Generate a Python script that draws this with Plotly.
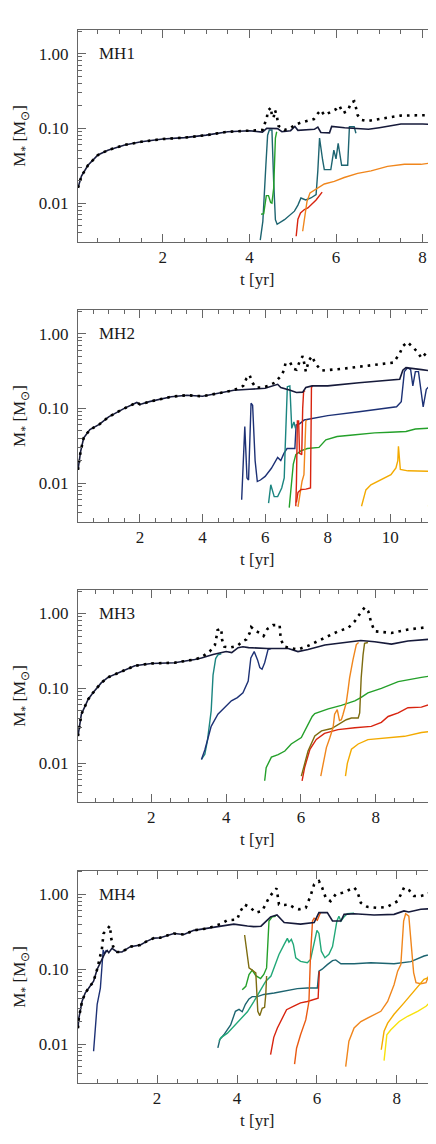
import plotly.graph_objects as go

# ---------------- MH1 ----------------
mh1_main_t = [0.04, 0.12, 0.27, 0.5, 0.73, 1.12, 1.5, 2.0, 2.5, 3.0, 3.5, 4.0, 4.3, 4.4, 4.65, 4.75, 4.95, 5.05,
              5.12, 5.5, 5.58, 5.65, 5.85, 5.9, 6.2, 6.4, 6.6, 6.75, 7.0, 7.5, 8.0, 8.31]
mh1_main_m = [0.016, 0.023, 0.032, 0.044, 0.051, 0.06, 0.066, 0.072, 0.075, 0.081, 0.09, 0.093, 0.089, 0.1, 0.099,
              0.09, 0.093, 0.106, 0.094, 0.097, 0.104, 0.088, 0.087, 0.106, 0.102, 0.1, 0.1, 0.097, 0.102, 0.114,
              0.114, 0.113]
mh1_tot_t = [0.04, 0.12, 0.27, 0.5, 0.73, 1.12, 1.5, 2.0, 2.5, 3.0, 3.5, 4.0, 4.3, 4.33, 4.4, 4.42, 4.5, 4.52, 4.56,
             4.59, 4.63, 4.67, 4.81, 4.93, 5.08, 5.2, 5.49, 5.58, 5.65, 5.73, 5.85, 5.92, 6.0, 6.08, 6.16, 6.27,
             6.35, 6.42, 6.46, 6.5, 6.58, 6.73, 7.19, 7.5, 8.12, 8.31]
mh1_tot_m = [0.016, 0.023, 0.032, 0.044, 0.051, 0.06, 0.066, 0.072, 0.075, 0.081, 0.09, 0.093, 0.095, 0.11, 0.13,
             0.17, 0.19, 0.14, 0.14, 0.175, 0.15, 0.108, 0.095, 0.1, 0.113, 0.12, 0.133, 0.158, 0.175, 0.15, 0.16,
             0.17, 0.18, 0.2, 0.16, 0.17, 0.222, 0.23, 0.19, 0.15, 0.13, 0.125, 0.139, 0.148, 0.15, 0.15]
mh1_teal_t = [4.25, 4.31, 4.38, 4.42, 4.46, 4.52, 4.56, 4.6, 4.64, 4.81, 5.04, 5.12, 5.19, 5.3, 5.42, 5.54, 5.58,
              5.62, 5.69, 5.73, 5.88, 5.95, 6.0, 6.05, 6.13, 6.27, 6.31, 6.42, 6.46]
mh1_teal_m = [0.0032, 0.0057, 0.032, 0.081, 0.095, 0.095, 0.0194, 0.006, 0.0052, 0.006, 0.0078, 0.0094, 0.0117,
              0.011, 0.0117, 0.013, 0.027, 0.074, 0.038, 0.028, 0.028, 0.051, 0.039, 0.063, 0.032, 0.032, 0.105,
              0.105, 0.086]
mh1_green_t = [4.27, 4.33, 4.39, 4.44, 4.49, 4.52, 4.56, 4.6, 4.63]
mh1_green_m = [0.0071, 0.0072, 0.0126, 0.0126, 0.0102, 0.01, 0.0158, 0.074, 0.09]
mh1_red_t = [5.08, 5.12, 5.18, 5.27, 5.35, 5.42, 5.54, 5.68]
mh1_red_m = [0.0036, 0.0061, 0.0074, 0.0082, 0.0086, 0.0095, 0.011, 0.014]
mh1_orange_t = [5.23, 5.29, 5.33, 5.4, 5.54, 5.73, 5.96, 6.19, 6.5, 6.81, 7.19, 7.58, 7.96, 8.31]
mh1_orange_m = [0.0042, 0.0068, 0.0105, 0.0137, 0.0153, 0.018, 0.0195, 0.022, 0.025, 0.027, 0.031, 0.033, 0.033,
                0.035]

# ---------------- MH2 ----------------
mh2_main_t = [0.02, 0.1, 0.2, 0.4, 0.7, 1.0, 1.5, 1.9, 2.0, 2.3, 3.0, 3.5, 4.0, 4.5, 5.0, 5.5, 6.0, 6.4, 6.5, 6.8,
              7.0, 7.2, 7.3, 7.5, 8.0, 9.0, 10.0, 10.3, 10.4, 10.5, 11.0, 11.46]
mh2_main_m = [0.015, 0.026, 0.04, 0.052, 0.061, 0.077, 0.1, 0.12, 0.113, 0.123, 0.143, 0.15, 0.145, 0.16, 0.175,
              0.18, 0.186, 0.21, 0.19, 0.175, 0.163, 0.165, 0.19, 0.2, 0.2, 0.22, 0.24, 0.245, 0.325, 0.35, 0.33,
              0.31]
mh2_tot_t = [0.02, 0.1, 0.2, 0.4, 0.7, 1.0, 1.5, 1.9, 2.0, 2.3, 3.0, 3.5, 4.0, 4.5, 5.0, 5.3, 5.4, 5.5, 5.6, 5.7,
             5.9, 6.1, 6.3, 6.5, 6.6, 6.65, 6.8, 6.9, 7.0, 7.1, 7.2, 7.25, 7.3, 7.4, 7.5, 7.6, 7.8, 8.5, 9.5, 10.1,
             10.3, 10.4, 10.55, 10.7, 10.85, 11.0, 11.2, 11.35, 11.46]
mh2_tot_m = [0.015, 0.026, 0.04, 0.052, 0.061, 0.077, 0.1, 0.12, 0.113, 0.123, 0.143, 0.15, 0.145, 0.16, 0.175,
             0.2, 0.25, 0.28, 0.22, 0.19, 0.19, 0.2, 0.22, 0.27, 0.32, 0.4, 0.41, 0.34, 0.33, 0.42, 0.5, 0.4, 0.31,
             0.44, 0.5, 0.4, 0.32, 0.34, 0.38, 0.41, 0.54, 0.68, 0.77, 0.66, 0.58, 0.47, 0.57, 0.68, 0.7]
mh2_navy_t = [5.25, 5.35, 5.42, 5.47, 5.55, 5.6, 5.68, 5.75, 5.85, 6.0, 6.2, 6.4, 6.5, 6.6, 6.7, 6.95, 6.99, 7.1,
              7.25, 7.46, 8.0, 9.0, 10.2, 10.35, 10.45, 10.55, 10.65, 10.72, 10.8, 10.9, 11.0, 11.05, 11.15, 11.25,
              11.35, 11.46]
mh2_navy_m = [0.006, 0.057, 0.0117, 0.011, 0.117, 0.11, 0.02, 0.0105, 0.011, 0.0123, 0.0158, 0.022, 0.02, 0.025,
              0.029, 0.029, 0.06, 0.062, 0.07, 0.073, 0.08, 0.09, 0.105, 0.123, 0.31, 0.35, 0.33, 0.2, 0.31, 0.31,
              0.14, 0.105, 0.18, 0.2, 0.25, 0.3]
mh2_teal_t = [6.11, 6.18, 6.29, 6.4, 6.53, 6.61, 6.64, 6.71, 6.79, 6.85, 6.92, 6.97]
mh2_teal_m = [0.0054, 0.0095, 0.0066, 0.0066, 0.0086, 0.0117, 0.029, 0.195, 0.2, 0.054, 0.066, 0.054]
mh2_green_t = [6.77, 6.86, 6.9, 6.98, 7.14, 7.35, 7.72, 7.94, 8.3, 8.8, 9.5, 10.0, 10.5, 10.8, 11.46]
mh2_green_m = [0.0047, 0.0142, 0.018, 0.024, 0.027, 0.029, 0.03, 0.038, 0.042, 0.044, 0.047, 0.048, 0.049, 0.053,
               0.055]
mh2_red_a_t = [6.98, 7.0, 7.03, 7.07, 7.1, 7.17, 7.2, 7.23, 7.28]
mh2_red_a_m = [0.0049, 0.01, 0.068, 0.068, 0.025, 0.024, 0.1, 0.17, 0.17]
mh2_red_b_t = [7.0, 7.05, 7.15, 7.3, 7.45, 7.48, 7.52]
mh2_red_b_m = [0.0055, 0.0075, 0.0082, 0.0083, 0.0086, 0.19, 0.2]
mh2_orange_t = [7.05, 7.1, 7.18, 7.24, 7.26, 7.28, 7.3, 7.33]
mh2_orange_m = [0.0048, 0.0065, 0.0106, 0.013, 0.0215, 0.034, 0.067, 0.07]
mh2_gold_t = [9.08, 9.22, 9.38, 9.7, 10.02, 10.18, 10.24, 10.26, 10.29, 10.32, 10.56, 11.0, 11.46]
mh2_gold_m = [0.0049, 0.0081, 0.0095, 0.011, 0.013, 0.016, 0.02, 0.031, 0.02, 0.0152, 0.0146, 0.0144, 0.0143]
mh2_yellow_t = [11.22, 11.28, 11.35, 11.46]
mh2_yellow_m = [0.0049, 0.0068, 0.008, 0.0086]

# ---------------- MH3 ----------------
mh3_main_t = [0.04, 0.13, 0.31, 0.44, 0.66, 0.84, 1.11, 1.56, 2.0, 2.62, 3.16, 3.34, 3.65, 3.87, 4.0, 4.15, 4.32,
              4.45, 4.6, 5.1, 5.66, 5.92, 6.19, 6.64, 7.08, 7.44, 7.6, 7.97, 8.42, 8.86, 9.61]
mh3_main_m = [0.023, 0.045, 0.071, 0.087, 0.118, 0.14, 0.16, 0.2, 0.215, 0.22, 0.243, 0.254, 0.283, 0.3, 0.31, 0.3,
              0.35, 0.36, 0.35, 0.34, 0.34, 0.31, 0.33, 0.38, 0.405, 0.42, 0.435, 0.42, 0.39, 0.43, 0.46]
mh3_tot_t = [0.04, 0.13, 0.31, 0.44, 0.66, 0.84, 1.11, 1.56, 2.0, 2.62, 3.16, 3.34, 3.56, 3.7, 3.74, 3.77, 3.87,
             3.89, 3.95, 4.1, 4.3, 4.45, 4.54, 4.63, 4.67, 4.8, 4.9, 5.0, 5.1, 5.25, 5.43, 5.46, 5.56, 5.75, 5.92,
             6.19, 6.64, 7.0, 7.26, 7.44, 7.62, 7.71, 7.8, 7.88, 7.97, 8.42, 8.86, 9.61]
mh3_tot_m = [0.023, 0.045, 0.071, 0.087, 0.118, 0.14, 0.16, 0.2, 0.215, 0.22, 0.243, 0.26, 0.31, 0.38, 0.48, 0.6,
             0.63, 0.45, 0.36, 0.35, 0.37, 0.43, 0.45, 0.55, 0.66, 0.58, 0.55, 0.5, 0.62, 0.7, 0.7, 0.45, 0.36, 0.34,
             0.33, 0.37, 0.47, 0.58, 0.64, 0.79, 1.07, 1.21, 1.07, 0.75, 0.58, 0.55, 0.61, 0.68]
mh3_teal_t = [3.34, 3.43, 3.5, 3.55, 3.6, 3.65, 3.72, 3.78, 3.87]
mh3_teal_m = [0.0112, 0.0131, 0.02, 0.03, 0.05, 0.15, 0.25, 0.28, 0.29]
mh3_navy_t = [3.34, 3.43, 3.52, 3.6, 3.78, 3.96, 4.14, 4.3, 4.45, 4.59, 4.66, 4.75, 4.84, 4.9, 4.96, 5.03, 5.12,
              5.2]
mh3_navy_m = [0.0112, 0.015, 0.022, 0.031, 0.045, 0.055, 0.068, 0.075, 0.087, 0.125, 0.255, 0.31, 0.24, 0.19,
              0.18, 0.22, 0.33, 0.34]
mh3_green_t = [5.03, 5.07, 5.21, 5.39, 5.57, 5.74, 6.01, 6.15, 6.3, 6.37, 6.73, 7.08, 7.44, 7.6, 7.79, 8.15, 8.6,
               9.22, 9.61]
mh3_green_m = [0.0058, 0.0087, 0.012, 0.013, 0.0145, 0.018, 0.022, 0.03, 0.042, 0.046, 0.053, 0.059, 0.068, 0.075,
               0.087, 0.1, 0.123, 0.14, 0.15]
mh3_olive_t = [6.01, 6.1, 6.19, 6.37, 6.55, 6.82, 7.08, 7.21, 7.35, 7.53, 7.57, 7.61, 7.66, 7.7, 7.79]
mh3_olive_m = [0.0067, 0.0099, 0.0145, 0.023, 0.027, 0.029, 0.035, 0.038, 0.04, 0.04, 0.047, 0.138, 0.28, 0.4,
               0.41]
mh3_orange_t = [6.53, 6.59, 6.68, 6.77, 6.86, 6.9, 6.97, 7.03, 7.08, 7.12, 7.21, 7.26, 7.3, 7.39, 7.48, 7.54]
mh3_orange_m = [0.0067, 0.0099, 0.0161, 0.0216, 0.03, 0.045, 0.052, 0.037, 0.038, 0.044, 0.064, 0.096, 0.138,
                0.24, 0.385, 0.41]
mh3_red_t = [6.03, 6.1, 6.24, 6.41, 6.63, 6.99, 7.44, 7.88, 8.15, 8.33, 8.6, 8.86, 9.22, 9.4, 9.61]
mh3_red_m = [0.0058, 0.0088, 0.0153, 0.0207, 0.025, 0.028, 0.0297, 0.031, 0.035, 0.042, 0.047, 0.055, 0.056, 0.06,
             0.068]
mh3_gold_t = [7.19, 7.24, 7.35, 7.53, 7.79, 8.33, 8.77, 9.22, 9.61]
mh3_gold_m = [0.0067, 0.0099, 0.0153, 0.018, 0.0206, 0.0217, 0.0228, 0.0256, 0.027]
mh3_yellow_t = [9.57, 9.61]
mh3_yellow_m = [0.0062, 0.0068]

# ---------------- MH4 ----------------
mh4_main_t = [0.02, 0.04, 0.12, 0.2, 0.29, 0.41, 0.5, 0.62, 0.7, 0.75, 0.79, 0.87, 1.0, 1.12, 1.33, 1.58, 1.75,
              1.92, 2.08, 2.42, 2.67, 2.92, 3.25, 3.59, 3.92, 4.26, 4.42, 4.6, 4.84, 5.0, 5.18, 5.59, 5.93, 6.05,
              6.26, 6.39, 6.6, 6.68, 6.93, 7.43, 7.93, 8.18, 8.3, 8.6, 8.98]
mh4_main_m = [0.0163, 0.022, 0.037, 0.048, 0.056, 0.069, 0.1, 0.135, 0.166, 0.178, 0.166, 0.19, 0.17, 0.17, 0.2,
              0.21, 0.237, 0.26, 0.263, 0.3, 0.29, 0.33, 0.35, 0.377, 0.4, 0.377, 0.37, 0.375, 0.5, 0.53, 0.42, 0.4,
              0.42, 0.57, 0.57, 0.44, 0.44, 0.54, 0.55, 0.53, 0.54, 0.6, 0.58, 0.63, 0.65]
mh4_tot_t = [0.02, 0.04, 0.12, 0.2, 0.29, 0.41, 0.5, 0.54, 0.62, 0.66, 0.75, 0.82, 0.85, 0.9, 1.0, 1.12, 1.33,
             1.58, 1.75, 1.92, 2.08, 2.42, 2.67, 2.92, 3.25, 3.59, 3.76, 4.0, 4.09, 4.19, 4.34, 4.47, 4.63, 4.8,
             4.92, 4.99, 5.05, 5.18, 5.3, 5.43, 5.55, 5.72, 5.84, 5.93, 6.05, 6.13, 6.22, 6.34, 6.47, 6.64, 6.85,
             6.93, 7.01, 7.1, 7.26, 7.51, 7.76, 8.02, 8.18, 8.31, 8.43, 8.6, 8.77, 8.98]
mh4_tot_m = [0.0163, 0.022, 0.037, 0.048, 0.056, 0.069, 0.1, 0.128, 0.19, 0.3, 0.34, 0.38, 0.26, 0.2, 0.17, 0.17,
             0.2, 0.21, 0.237, 0.26, 0.263, 0.3, 0.29, 0.33, 0.35, 0.4, 0.45, 0.46, 0.6, 0.73, 0.66, 0.57, 0.6, 0.9,
             1.1, 1.2, 0.73, 0.72, 0.73, 0.66, 0.63, 0.66, 0.95, 1.36, 1.5, 1.23, 0.9, 0.81, 1.0, 1.05, 1.17, 1.23,
             1.1, 0.77, 0.68, 0.66, 0.68, 0.81, 1.23, 1.13, 0.95, 0.95, 1.0, 1.23]
mh4_navy_t = [0.41, 0.46, 0.5, 0.58, 0.62, 0.65, 0.68, 0.73]
mh4_navy_m = [0.008, 0.0164, 0.034, 0.056, 0.104, 0.18, 0.16, 0.18]
mh4_olive_t = [4.19, 4.3, 4.38, 4.47, 4.52, 4.57, 4.63, 4.69, 4.72, 4.74]
mh4_olive_m = [0.286, 0.104, 0.097, 0.089, 0.0274, 0.024, 0.03, 0.031, 0.046, 0.081]
mh4_green_t = [4.13, 4.22, 4.3, 4.38, 4.47, 4.59, 4.67, 4.74, 4.77, 4.8, 4.88, 4.97]
mh4_green_m = [0.053, 0.059, 0.085, 0.097, 0.082, 0.075, 0.085, 0.104, 0.214, 0.44, 0.5, 0.51]
mh4_sea_t = [3.55, 3.6, 3.76, 3.93, 4.09, 4.26, 4.42, 4.59, 4.72, 4.85, 4.93, 5.05, 5.18, 5.26, 5.3, 5.36, 5.41,
             5.47, 5.59, 5.76, 5.84, 5.93, 6.0, 6.05, 6.11, 6.2, 6.3, 6.39, 6.47, 6.5, 6.55, 6.6, 6.68, 6.76, 6.93]
mh4_sea_m = [0.011, 0.0122, 0.014, 0.0175, 0.022, 0.027, 0.037, 0.053, 0.069, 0.081, 0.104, 0.157, 0.214, 0.258,
             0.23, 0.25, 0.214, 0.142, 0.127, 0.122, 0.135, 0.225, 0.33, 0.3, 0.174, 0.142, 0.158, 0.2, 0.36, 0.44,
             0.51, 0.44, 0.5, 0.55, 0.56]
mh4_teal_t = [3.52, 3.57, 3.67, 3.84, 3.96, 4.05, 4.13, 4.21, 4.3, 4.38, 4.51, 4.67, 4.93, 5.26, 5.51, 5.76, 6.01,
              6.05, 6.13, 6.26, 6.39, 6.47, 6.6, 6.93, 7.35, 7.93, 8.35, 8.68, 8.98]
mh4_teal_m = [0.0089, 0.0115, 0.0133, 0.018, 0.0274, 0.029, 0.027, 0.034, 0.04, 0.043, 0.043, 0.046, 0.048, 0.052,
              0.055, 0.056, 0.056, 0.094, 0.1, 0.115, 0.13, 0.133, 0.118, 0.118, 0.122, 0.118, 0.126, 0.15, 0.166]
mh4_red_t = [4.84, 4.92, 5.01, 5.11, 5.24, 5.42, 5.59, 5.76, 5.93, 6.03, 6.06]
mh4_red_m = [0.0072, 0.0123, 0.0164, 0.0214, 0.0288, 0.032, 0.0355, 0.037, 0.039, 0.041, 0.094]
mh4_vermil_t = [5.44, 5.49, 5.59, 5.72, 5.8, 5.84, 5.89, 5.93, 6.01, 6.09]
mh4_vermil_m = [0.0054, 0.0088, 0.0133, 0.021, 0.037, 0.157, 0.44, 0.48, 0.45, 0.57]
mh4_orange_t = [6.72, 6.8, 6.93, 7.1, 7.35, 7.6, 7.77, 7.93, 8.02, 8.1, 8.17, 8.22, 8.3, 8.35, 8.42, 8.48, 8.6,
                8.73, 8.81, 8.9, 8.95, 8.98]
mh4_orange_m = [0.005, 0.0109, 0.0164, 0.02, 0.0235, 0.0274, 0.037, 0.062, 0.094, 0.115, 0.44, 0.55, 0.51, 0.26,
                0.09, 0.066, 0.064, 0.066, 0.085, 0.115, 0.32, 0.4]
mh4_gold_t = [7.61, 7.68, 7.77, 7.93, 8.18, 8.43, 8.68, 8.85, 8.98]
mh4_gold_m = [0.0084, 0.0148, 0.019, 0.025, 0.0355, 0.051, 0.073, 0.08, 0.082]
mh4_yellow_t = [7.68, 7.75, 7.85, 8.06, 8.27, 8.52, 8.73, 8.85, 8.98]
mh4_yellow_m = [0.006, 0.0133, 0.0155, 0.02, 0.0235, 0.0274, 0.032, 0.037, 0.044]

panel_names = ["MH1", "MH2", "MH3", "MH4"]
x_ranges = [[0.04, 8.31], [0.02, 11.46], [0.04, 9.61], [0.02, 8.98]]

DARK = "#161a3a"
NAVY = "#1d3175"
DTEAL = "#1d6470"
TEAL = "#1b8580"
SEA = "#22a878"
GREEN = "#24a02a"
OLIVE = "#7d6c10"
RED = "#d8240f"
VERMIL = "#ea5a12"
ORANGE = "#f0861c"
GOLD = "#f3aa00"
YELLOW = "#f8e20a"

panels = [
    (mh1_main_t, mh1_main_m, mh1_tot_t, mh1_tot_m, [
        (mh1_teal_t, mh1_teal_m, DTEAL), (mh1_green_t, mh1_green_m, GREEN),
        (mh1_red_t, mh1_red_m, RED), (mh1_orange_t, mh1_orange_m, ORANGE)]),
    (mh2_main_t, mh2_main_m, mh2_tot_t, mh2_tot_m, [
        (mh2_navy_t, mh2_navy_m, NAVY), (mh2_teal_t, mh2_teal_m, TEAL),
        (mh2_green_t, mh2_green_m, GREEN), (mh2_orange_t, mh2_orange_m, ORANGE),
        (mh2_red_a_t, mh2_red_a_m, RED), (mh2_red_b_t, mh2_red_b_m, RED),
        (mh2_gold_t, mh2_gold_m, GOLD), (mh2_yellow_t, mh2_yellow_m, YELLOW)]),
    (mh3_main_t, mh3_main_m, mh3_tot_t, mh3_tot_m, [
        (mh3_teal_t, mh3_teal_m, TEAL), (mh3_navy_t, mh3_navy_m, NAVY),
        (mh3_green_t, mh3_green_m, GREEN), (mh3_red_t, mh3_red_m, RED),
        (mh3_olive_t, mh3_olive_m, OLIVE), (mh3_orange_t, mh3_orange_m, ORANGE),
        (mh3_gold_t, mh3_gold_m, GOLD), (mh3_yellow_t, mh3_yellow_m, YELLOW)]),
    (mh4_main_t, mh4_main_m, mh4_tot_t, mh4_tot_m, [
        (mh4_navy_t, mh4_navy_m, NAVY), (mh4_teal_t, mh4_teal_m, DTEAL),
        (mh4_sea_t, mh4_sea_m, SEA), (mh4_green_t, mh4_green_m, GREEN),
        (mh4_olive_t, mh4_olive_m, OLIVE), (mh4_red_t, mh4_red_m, RED),
        (mh4_vermil_t, mh4_vermil_m, VERMIL), (mh4_orange_t, mh4_orange_m, ORANGE),
        (mh4_gold_t, mh4_gold_m, GOLD), (mh4_yellow_t, mh4_yellow_m, YELLOW)]),
]

domains = [[0.7987, 1.0], [0.5328, 0.734], [0.2669, 0.4682], [0.0, 0.2016]]

FONT = "Liberation Serif"
AXC = "#666666"
minor_y = [k * 10.0 ** e for e in (-3, -2, -1) for k in range(2, 10)] + [2.0]

fig = go.Figure()
layout = dict(
    width=436, height=1144,
    margin=dict(l=70, r=8, t=22, b=69),
    paper_bgcolor="white", plot_bgcolor="white",
    showlegend=False,
    font=dict(family=FONT, size=17, color="#1a1a1a"),
    annotations=[],
)

for i, (mt, mm, tt, tm, others) in enumerate(panels):
    n = "" if i == 0 else str(i + 1)
    xa, ya = "x" + n, "y" + n
    for (t, m, c) in others:
        fig.add_trace(go.Scatter(x=t, y=m, mode="lines", xaxis=xa, yaxis=ya,
                                 line=dict(color=c, width=1.4), hoverinfo="skip"))
    fig.add_trace(go.Scatter(x=mt, y=mm, mode="lines", xaxis=xa, yaxis=ya,
                             line=dict(color=DARK, width=1.6), hoverinfo="skip"))
    fig.add_trace(go.Scatter(x=tt, y=tm, mode="lines", xaxis=xa, yaxis=ya,
                             line=dict(color="black", width=2.6, dash="2.6px,5px"), hoverinfo="skip"))

    layout["xaxis" + n] = dict(
        domain=[0, 1], anchor=ya, range=x_ranges[i],
        tick0=0, dtick=2, ticks="inside", ticklen=8, tickcolor=AXC,
        minor=dict(dtick=0.5, tick0=0, ticks="inside", ticklen=4, tickcolor=AXC),
        showline=True, linecolor=AXC, linewidth=1, mirror="allticks",
        showgrid=False, zeroline=False, ticklabelstandoff=0,
    )
    layout["yaxis" + n] = dict(
        domain=domains[i], anchor=xa, type="log", range=[-2.52, 0.315],
        tickvals=[0.01, 0.1, 1.0], ticktext=["0.01", "0.10", "1.00"],
        ticks="inside", ticklen=8, tickcolor=AXC,
        minor=dict(tickvals=minor_y, ticks="inside", ticklen=4, tickcolor=AXC),
        showline=True, linecolor=AXC, linewidth=1, mirror="allticks",
        showgrid=False, zeroline=False, ticklabelstandoff=5,
        title=dict(text="M<sub>*</sub> [M<sub>⊙</sub>]", standoff=8, font=dict(size=17)),
    )
    layout["annotations"].append(dict(
        text=panel_names[i], xref=xa + " domain", yref=ya, x=0.053, y=0,
        xanchor="left", yanchor="middle", showarrow=False, font=dict(size=17)))
    layout["annotations"].append(dict(
        text="t [yr]", xref=xa + " domain", yref=ya + " domain", x=0.5, y=-0.175,
        xanchor="center", yanchor="middle", showarrow=False, font=dict(size=17)))

fig.update_layout(**layout)
fig.write_html("out.html")
